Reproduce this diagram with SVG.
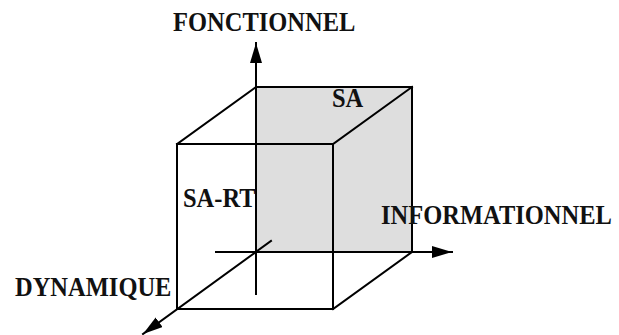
<svg xmlns="http://www.w3.org/2000/svg" width="619" height="335" viewBox="0 0 619 335">
<style>
.ln{stroke:#000;stroke-width:2;fill:none;stroke-linecap:square}
.lbl{font-family:"Liberation Serif","Times New Roman",serif;font-weight:bold;font-size:24.5px;fill:#111}
</style>
<defs>
<marker id="ah" viewBox="0 0 20 12" refX="20" refY="6" markerWidth="20" markerHeight="12" markerUnits="userSpaceOnUse" orient="auto">
<path d="M0,0 L20,6 L0,12 Z" fill="#000"/>
</marker>
</defs>
<rect width="619" height="335" fill="#fff"/>
<g id="back-face">
<rect x="256" y="87" width="156" height="165" fill="#dedede"/>
<path class="ln" d="M256,87 H412 V252"/>
</g>
<g id="cube-edges">
<path class="ln" d="M177,144 L256,87 M333,144 L412,87 M333,309 L412,252"/>
</g>
<g id="front-face">
<rect class="ln" x="177" y="144" width="156" height="165"/>
</g>
<g id="connectors">
<line class="ln" x1="256" y1="294" x2="256" y2="43" marker-end="url(#ah)"/>
<line class="ln" x1="216" y1="252" x2="452" y2="252" marker-end="url(#ah)"/>
<line class="ln" x1="271" y1="241" x2="143" y2="334" marker-end="url(#ah)"/>
</g>
<g id="label-fonctionnel" transform="translate(173,31) scale(1,1.15)"><text class="lbl" x="0" y="0">FONCTIONNEL</text></g>
<g id="label-sa" transform="translate(332,107) scale(1,1.15)"><text class="lbl" x="0" y="0">SA</text></g>
<g id="label-sart" transform="translate(183,207) scale(1,1.15)"><text class="lbl" x="0" y="0">SA-RT</text></g>
<g id="label-informationnel" transform="translate(381,224) scale(1,1.15)"><text class="lbl" x="0" y="0">INFORMATIONNEL</text></g>
<g id="label-dynamique" transform="translate(15,296) scale(1,1.15)"><text class="lbl" x="0" y="0">DYNAMIQUE</text></g>
</svg>
